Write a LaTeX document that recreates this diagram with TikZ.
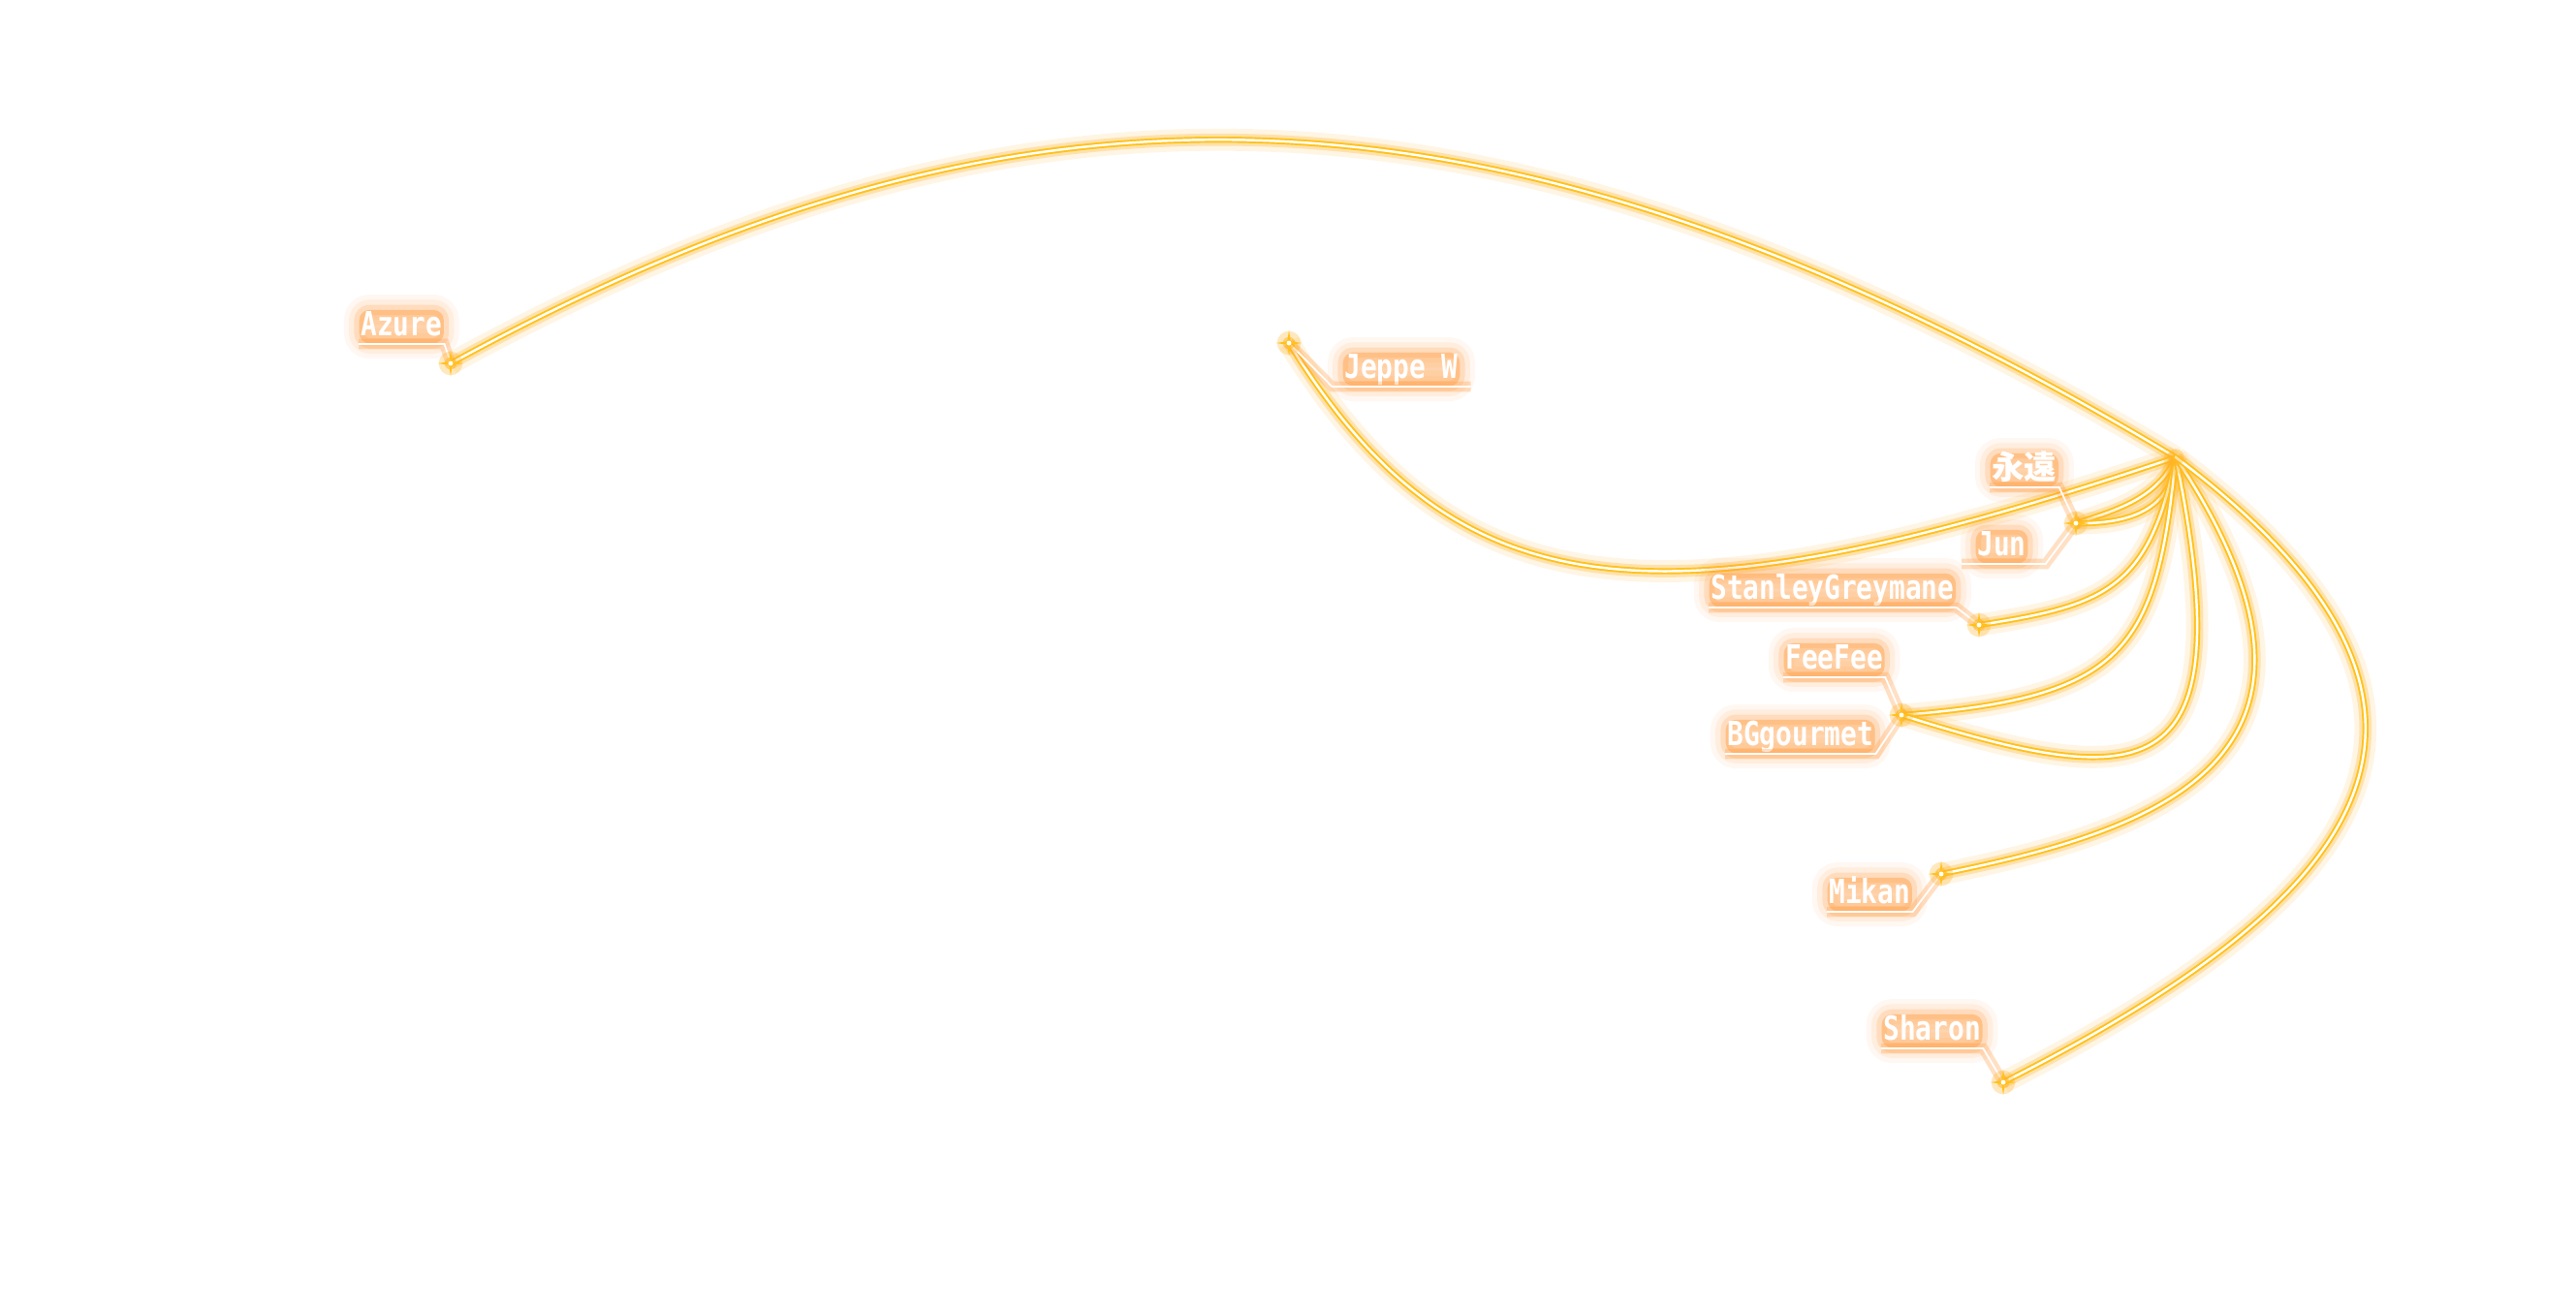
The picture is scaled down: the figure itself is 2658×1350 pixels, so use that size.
\documentclass[tikz,border=0pt]{standalone}
\usepackage{fontspec}
\newfontfamily\lblfont{DejaVu Sans Mono}[FakeStretch=0.81]
\newfontfamily\cjkfont{Noto Sans CJK JP}
\definecolor{gold}{HTML}{FFC21A}
\definecolor{glowor}{HTML}{FFB428}
\definecolor{halo}{HTML}{FF9A3C}

\tikzset{
  route/.style={white, line width=0.7pt, line cap=round,
    preaction={draw=glowor, line width=6.5pt, opacity=0.12},
    preaction={draw=glowor, line width=3.6pt, opacity=0.3},
    preaction={draw=gold, line width=1.8pt}},
  leader/.style={white, line width=0.5pt,
    preaction={draw=halo, line width=3pt, opacity=0.3}},
  tag/.style={anchor=south west, inner xsep=0.5pt, inner ysep=0pt,
    text depth=2.3pt, text height=7.5pt, text=white, text opacity=1,
    font=\lblfont\bfseries\fontsize{9.75}{10}\selectfont,
    rounded corners=3pt, fill=halo, fill opacity=0.3,
    preaction={fill=halo, draw=halo, line width=9pt, line join=round, opacity=0.07},
    preaction={fill=halo, draw=halo, line width=6pt, line join=round, opacity=0.1},
    preaction={draw=halo, line width=3pt, line join=round, opacity=0.2}},
  spark/.style={fill=gold}
}

\begin{document}
\begin{tikzpicture}[x=0.01cm, y=-0.01cm]
\useasboundingbox (0,0) rectangle (2658,1350);
\fill[white] (0,0) rectangle (2658,1350);

\coordinate (hub) at (2245,472);
\coordinate (azure) at (465,375);
\coordinate (jeppe) at (1330,354);
\coordinate (jun) at (2142,540);
\coordinate (stanley) at (2042,645);
\coordinate (fee) at (1962,738);
\coordinate (mikan) at (2003,902);
\coordinate (sharon) at (2067,1117);

% routes into the hub
\foreach \s/\ca/\cb in {azure/{(1050,55)}/{(1540,50)},
    jeppe/{(1505,636)}/{(1713,651)},
    jun/{(2182,527)}/{(2226,515)},
    jun/{(2197,541)}/{(2242,526)},
    stanley/{(2171,625)}/{(2217,609)},
    fee/{(2192,720)}/{(2225,672)},
    fee/{(2218,819)}/{(2315,815)},
    mikan/{(2219,858)}/{(2454,787)},
    sharon/{(2423,937)}/{(2605,742)}}{
  \draw[route] (\s) .. controls \ca and \cb .. (hub);
}
\fill[glowor, opacity=0.4] (hub) circle (2.5pt);

% labels
\node[tag] (lAzure) at (370,355) {Azure};
\node[tag] (lJeppe) at (1385,399) {Jeppe W};
\node[tag, font=\cjkfont\bfseries\fontsize{9.5}{10}\selectfont] (lEien) at (2053,503) {永遠};
\node[tag] (lJun) at (2038,582) {Jun};
\node[tag] (lStanley) at (1763,627) {StanleyGreymane};
\node[tag] (lFee) at (1840,699) {FeeFee};
\node[tag] (lBG) at (1780,778) {BGgourmet};
\node[tag] (lMikan) at (1885,941) {Mikan};
\node[tag] (lSharon) at (1941,1082) {Sharon};

% leader lines
\draw[leader] (azure) -- (lAzure.south east) -- (lAzure.south west);
\draw[leader] (jeppe) -- ([xshift=-3pt]lJeppe.south west) -- ([xshift=3pt]lJeppe.south east);
\draw[leader] (jun) -- (lEien.south east) -- (lEien.south west);
\draw[leader] (jun) -- ([xshift=5pt]lJun.south east) -- ([xshift=-4pt]lJun.south west);
\draw[leader] (stanley) -- (lStanley.south east) -- (lStanley.south west);
\draw[leader] (fee) -- (lFee.south east) -- (lFee.south west);
\draw[leader] (fee) -- (lBG.south east) -- (lBG.south west);
\draw[leader] (mikan) -- (lMikan.south east) -- (lMikan.south west);
\draw[leader] (sharon) -- (lSharon.south east) -- (lSharon.south west);

% sparkles at the end points
\foreach \p in {azure,jeppe,jun,stanley,fee,mikan,sharon}{
  \fill[glowor, opacity=0.3] (\p) circle (3.5pt);
  \fill[glowor, opacity=0.5] (\p) circle (1.8pt);
  \fill[spark] (\p) +(0:13) -- +(45:2.5) -- +(90:13) -- +(135:2.5)
    -- +(180:13) -- +(225:2.5) -- +(270:13) -- +(315:2.5) -- cycle;
  \fill[white] (\p) circle (0.7pt);
}
\end{tikzpicture}
\end{document}
